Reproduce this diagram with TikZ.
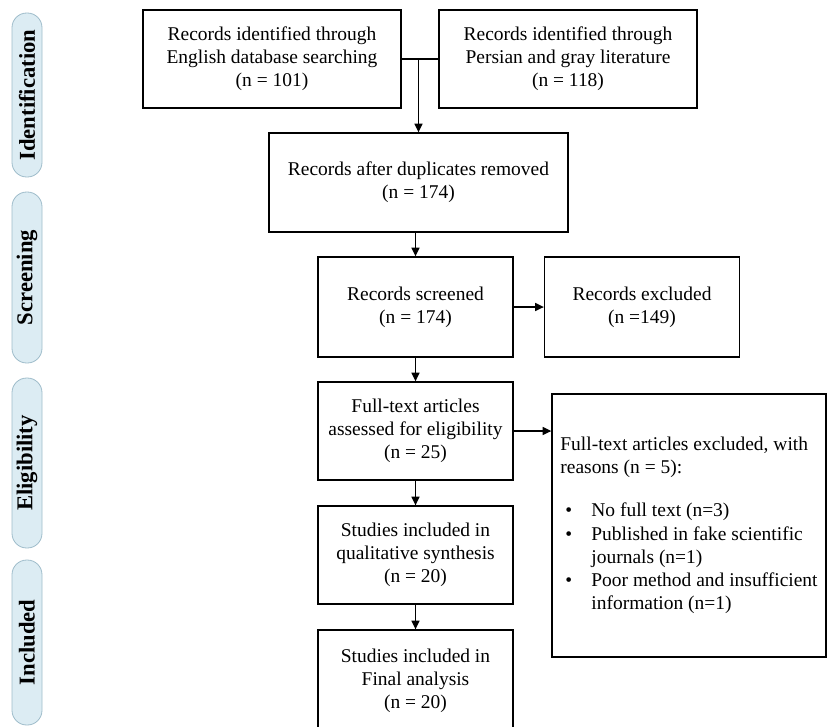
\documentclass[tikz,border=0pt]{standalone}
\usepackage{fontspec}
\setmainfont{Liberation Serif}
\usetikzlibrary{arrows.meta, positioning}
\definecolor{phasefill}{RGB}{220,236,243}
\definecolor{phaseline}{RGB}{158,188,202}

\begin{document}
\begin{tikzpicture}[x=0.75pt, y=-0.75pt,
  box/.style={draw, line width=1pt, align=center, inner sep=2pt, font=\fontsize{14.6}{17.4}\selectfont},
  phase/.style={draw=phaseline, fill=phasefill, line width=0.6pt, rounded corners=11pt, rotate=90, minimum height=22.5pt, font=\fontsize{17}{17}\selectfont\bfseries},
  arr/.style={-{Triangle[length=6.5pt,width=6pt]}, line width=1pt}]
\useasboundingbox (0,0) rectangle (838,726);

% Phase labels on the left
\node[phase, minimum width=123pt] (ident) at (27,95) {Identification};
\node[phase, minimum width=128.25pt] (screen) at (27,277.5) {Screening};
\node[phase, minimum width=127.5pt] (elig) at (27,463) {Eligibility};
\node[phase, minimum width=123.75pt] (incl) at (27,642.5) {Included};

% Flow boxes
\node[box, minimum width=193.5pt, minimum height=73.5pt] (eng) at (272,59) {Records identified through\\English database searching\\(n = 101)};
\node[box, minimum width=193.5pt, minimum height=73.5pt] (per) at (568,59) {Records identified through\\Persian and gray literature\\(n = 118)};
\node[box, minimum width=224.25pt, minimum height=74.25pt] (dup) at (418.5,182.5) {Records after duplicates removed\\(n = 174)};
\node[box, minimum width=146.25pt, minimum height=75pt] (scr) at (415.5,307) {Records screened\\(n = 174)};
\node[box, minimum width=146.25pt, minimum height=75pt] (exc) at (642,307) {Records excluded\\(n =149)};
\node[box, minimum width=146.25pt, minimum height=73.5pt] (full) at (415.5,431) {Full-text articles\\assessed for eligibility\\(n = 25)};
\node[box, minimum width=205.5pt, minimum height=197.25pt, align=left] (rsn) at (689,525.5) {Full-text articles excluded, with\\reasons (n = 5):\\[15pt]
  \hspace*{3.75pt}\makebox[19.5pt][l]{\textbullet}No full text (n=3)\\
  \hspace*{3.75pt}\makebox[19.5pt][l]{\textbullet}Published in fake scientific\\
  \hspace*{23.25pt}journals (n=1)\\
  \hspace*{3.75pt}\makebox[19.5pt][l]{\textbullet}Poor method and insufficient\\
  \hspace*{23.25pt}information (n=1)};
\node[box, minimum width=146.25pt, minimum height=73.5pt] (qual) at (415.5,555) {Studies included in\\qualitative synthesis\\(n = 20)};
\node[box, minimum width=146.25pt, minimum height=76.5pt] (fin) at (415.5,681) {Studies included in\\Final analysis\\(n = 20)};

% Connectors
\draw[line width=1pt] (eng.east) -- (per.west);
\coordinate (join) at (eng.east -| dup.north);
\draw[arr] (join) -- (dup.north);
\draw[arr] (dup.south -| scr.north) -- (scr.north);
\draw[arr] (scr.east) -- (exc.west);
\draw[arr] (scr.south) -- (full.north);
\draw[arr] (full.east) -- (full.east -| rsn.west);
\draw[arr] (full.south) -- (qual.north);
\draw[arr] (qual.south) -- (fin.north);
\end{tikzpicture}
\end{document}
